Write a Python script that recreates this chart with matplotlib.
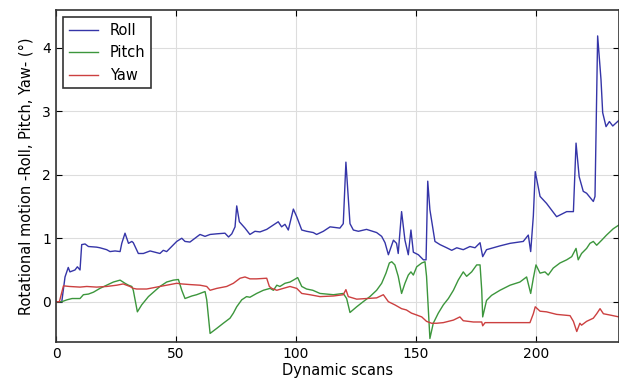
import matplotlib.pyplot as plt

# keypoints (scan index, degrees)
roll_x = [0, 2.4, 3.75, 5.1, 5.8, 7.9, 8.9, 10.0, 10.7, 12.1, 13.5, 16.9, 18.3, 21.1, 22.5,
          24.6, 26.7, 27.4, 28.75, 30.2, 31.6, 32.2, 34.3, 36.4, 39.2, 41.25, 43.3, 44.7,
          46.1, 48.2, 50.3, 52.4, 53.75, 55.8, 57.9, 60, 62.1, 64.2, 67, 70.4, 71.9, 73.25,
          74.6, 75.3, 76.4, 78.75, 80.8, 82.9, 85, 87.8, 90.6, 92.6, 94, 95.4, 96.8, 98.9,
          100.3, 102.4, 104.4, 107.2, 108.6, 111.4, 114.2, 118.3, 119.7, 120.8, 122.5,
          123.9, 126, 129.4, 133.6, 135.7, 137.1, 138.5, 140.6, 141.9, 142.6, 144, 145.4,
          146.8, 147.9, 148.9, 151, 153.1, 154.2, 154.9, 155.8, 157.9, 160, 162.8, 164.9,
          167, 169.7, 172.5, 174.6, 176.7, 177.8, 179.4, 182.2, 185, 189.2, 194.7, 196.8,
          197.8, 198.9, 199.7, 201.7, 204.4, 208.6, 212.8, 215.6, 216.7, 218, 219.7, 221.1,
          223.9, 224.6, 225.7, 227.1, 227.8, 229.2, 230.6, 232, 234.6]
roll_y = [0, 0, 0.39, 0.54, 0.47, 0.5, 0.55, 0.5, 0.9, 0.91, 0.87, 0.86, 0.85, 0.82, 0.79,
          0.8, 0.79, 0.92, 1.08, 0.92, 0.95, 0.93, 0.76, 0.76, 0.8, 0.78, 0.76, 0.81,
          0.79, 0.87, 0.95, 1.0, 0.95, 0.94, 1.0, 1.06, 1.03, 1.06, 1.07, 1.08, 1.02, 1.07,
          1.18, 1.51, 1.26, 1.16, 1.06, 1.11, 1.1, 1.14, 1.21, 1.26, 1.18, 1.22, 1.13, 1.46,
          1.34, 1.13, 1.11, 1.09, 1.06, 1.11, 1.18, 1.16, 1.23, 2.2, 1.23,
          1.13, 1.11, 1.14, 1.09, 1.03, 0.93, 0.74, 0.97, 0.92, 0.76, 1.42, 0.97,
          0.74, 1.13, 0.78, 0.74, 0.66, 0.66, 1.9, 1.45, 0.95, 0.9, 0.85, 0.81,
          0.85, 0.82, 0.87, 0.85, 0.93, 0.71, 0.82, 0.85, 0.88, 0.92, 0.95, 1.05,
          0.79, 1.35, 2.05, 1.66, 1.55, 1.34, 1.42, 1.42, 2.5, 1.97, 1.74, 1.71,
          1.58, 1.66, 4.19, 3.5, 2.98, 2.76, 2.84, 2.77, 2.86]

pitch_x = [0, 2.4, 4.6, 6.7, 10, 11.4, 13.5, 15.6, 18.3, 21.1, 23.9, 26.7, 28.75, 30.2, 31.6,
           32.2, 33.9, 35.7, 38.5, 40.6, 43.3, 46.1, 48.9, 51, 52.4, 53.75, 56.6, 58.6, 60.7,
           62.1, 62.8, 64.2, 67, 69.7, 72.5, 73.9, 75.3, 77.4, 79.4, 80.8, 83.6, 86.4, 89.2,
           90.6, 92, 93.3, 95.4, 97.5, 98.9, 100.7, 102.4, 104.4, 107, 110, 115.6, 119.7,
           121.1, 122.5, 125.3, 128, 130.8, 133.6, 135.7, 137.5, 138.9, 139.9, 141.2, 142.6,
           144, 145.4, 146.8, 147.9, 148.9, 150.3, 152.4, 153.75, 154.4, 155.8, 157.2, 159.3,
           161.4, 163.5, 165.6, 167.6, 169.7, 171.1, 173.2, 175.3, 176.7, 177.4, 177.8, 179.4,
           181.5, 185, 189.2, 193.3, 196.1, 197.8, 198.9, 200, 201.7, 203.75, 205.1, 207.2,
           210, 212.8, 214.9, 216.7, 217.6, 219, 221.1, 222.5, 223.9, 225.3, 227.4, 229.4,
           232.2, 234.6]
pitch_y = [0, 0, 0.03, 0.05, 0.05, 0.11, 0.12, 0.15, 0.21, 0.26, 0.31, 0.34, 0.29, 0.26, 0.24,
           0.18, -0.16, -0.05, 0.08, 0.15, 0.24, 0.31, 0.34, 0.35, 0.18, 0.05, 0.09, 0.11, 0.14,
           0.16, 0.03, -0.5, -0.42, -0.34, -0.26, -0.18, -0.08, 0.03, 0.08, 0.07, 0.13, 0.18, 0.21,
           0.18, 0.26, 0.24, 0.29, 0.31, 0.34, 0.38, 0.24, 0.2, 0.18, 0.13, 0.11, 0.13,
           0.05, -0.17, -0.08, 0.0, 0.08, 0.18, 0.29, 0.45, 0.61, 0.63, 0.58, 0.4,
           0.13, 0.29, 0.42, 0.47, 0.42, 0.55, 0.61, 0.63, 0.4, -0.58, -0.34, -0.18,
           -0.05, 0.05, 0.18, 0.34, 0.47, 0.4, 0.47, 0.58, 0.58, 0.18, -0.24, 0.02,
           0.1, 0.18, 0.26, 0.31, 0.39, 0.13, 0.37, 0.58, 0.45, 0.47, 0.42, 0.53,
           0.61, 0.66, 0.71, 0.84, 0.66, 0.76, 0.84, 0.92, 0.95, 0.89, 0.97, 1.05,
           1.15, 1.21]

yaw_x = [0, 1.4, 3.1, 5.6, 10, 12.8, 16.9, 21.1, 25.3, 28, 30.8, 32.2, 33.6, 37.8, 41.9, 46.1,
         50.3, 52.4, 55.8, 60, 62.8, 64.2, 67, 71.1, 73.9, 76.7, 78.75, 80.8, 83.6, 87.8, 88.9,
         89.9, 92, 94.7, 97.5, 100.3, 102.4, 105.8, 110, 115.6, 119.7, 120.8, 121.8, 125.3,
         129.4, 133.6, 136.4, 138.5, 141.2, 144, 146, 148.1, 150.3, 152.4, 154.4, 156.5,
         158.6, 161.4, 165.6, 168.3, 169.7, 173.9, 177.4, 177.8, 178.8, 183.6, 190.6, 197.5,
         198.9, 199.7, 201.7, 204.4, 208.6, 214.2, 215.6, 217, 218.3, 219, 221.1, 223.9,
         225.3, 226.7, 228.1, 230.8, 234.6]
yaw_y = [0, 0, 0.25, 0.24, 0.23, 0.24, 0.23, 0.24, 0.26, 0.28, 0.24, 0.21, 0.2, 0.2, 0.23, 0.26,
         0.29, 0.28, 0.27, 0.26, 0.24, 0.18, 0.21, 0.24, 0.29, 0.37, 0.39, 0.36, 0.36, 0.37, 0.24,
         0.21, 0.18, 0.21, 0.24, 0.21, 0.13, 0.11, 0.08, 0.09, 0.11, 0.19, 0.08, 0.04,
         0.05, 0.06, 0.11, 0.0, -0.05, -0.11, -0.13, -0.18, -0.21, -0.24, -0.31, -0.34,
         -0.34, -0.33, -0.29, -0.24, -0.3, -0.32, -0.32, -0.38, -0.33, -0.33, -0.33, -0.33,
         -0.19, -0.08, -0.15, -0.16, -0.2, -0.22, -0.31, -0.47, -0.34, -0.37, -0.31, -0.26,
         -0.19, -0.11, -0.19, -0.21, -0.24]

fig = plt.figure(figsize=(6.19, 3.81), dpi=100)
ax = fig.add_axes([0.0905, 0.1016, 0.9095, 0.8724])

ax.plot(roll_x, roll_y, color='#3535a8', lw=1.0, label='Roll')
ax.plot(pitch_x, pitch_y, color='#3c963c', lw=1.0, label='Pitch')
ax.plot(yaw_x, yaw_y, color='#cc4040', lw=1.0, label='Yaw')

ax.set_xlim(0, 234.6)
ax.set_ylim(-0.64, 4.6)
ax.set_xticks([0, 50, 100, 150, 200])
ax.set_yticks([0, 1, 2, 3, 4])
ax.grid(True, color='#dddddd', lw=0.8)
ax.tick_params(direction='in', top=True, right=True, labelsize=10, length=4)
for s in ax.spines.values():
    s.set_color('#333333')
    s.set_linewidth(1.2)

ax.set_xlabel('Dynamic scans', fontsize=10.5, labelpad=1)
ax.set_ylabel('Rotational motion -Roll, Pitch, Yaw- (°)', fontsize=10.5, labelpad=6)

leg = ax.legend(loc='upper left', fontsize=10.5, fancybox=False, framealpha=1,
                handlelength=2.0, borderaxespad=0.5)
leg.get_frame().set_edgecolor('#333333')
leg.get_frame().set_linewidth(1.2)

fig.savefig('out.png', dpi=100)
